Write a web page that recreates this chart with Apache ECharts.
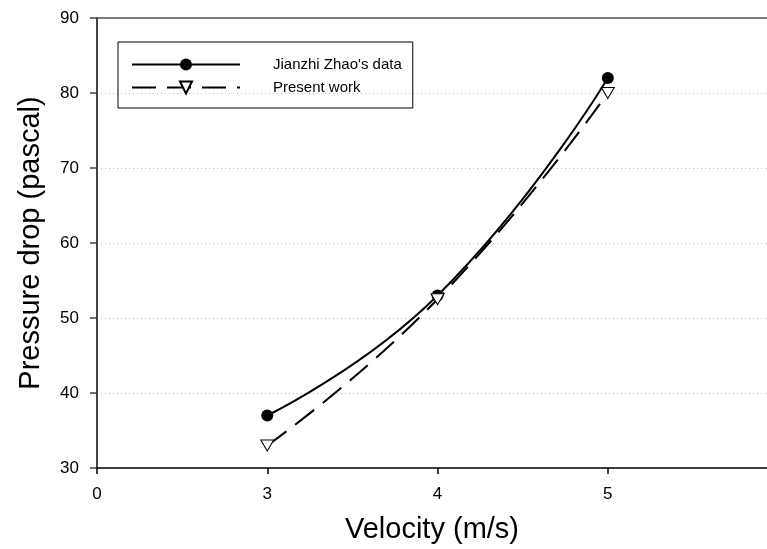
<!DOCTYPE html>
<html>
<head>
<meta charset="utf-8">
<script src="https://cdn.jsdelivr.net/npm/echarts@6/dist/echarts.min.js"></script>
<style>
  html, body { margin: 0; padding: 0; background: #fff; }
  #chart { width: 767px; height: 549px; }
</style>
</head>
<body>
<div id="chart"></div>
<script>
// velocity (m/s) and pressure drop (pascal)
const velocity = [3, 4, 5];
const zhaoData = [37, 53, 82];
const presentWork = [33, 52.5, 80];
const seriesNames = ["Jianzhi Zhao's data", 'Present work'];
// axis starts at 2 but the first tick is labelled 0 in the original
const xTicks = [2, 3, 4, 5];

const font = 'Liberation Sans, Arial, sans-serif';

const chart = echarts.init(document.getElementById('chart'));

const xBase = {
    type: 'value',
    min: 2,
    max: 5.935,
    interval: 1
};

chart.setOption({
    animation: false,
    backgroundColor: '#fff',
    grid: { left: 97, right: 0, top: 18, bottom: 81, outerBoundsMode: 'none' },
    legend: {
        orient: 'vertical',
        left: 118,
        top: 42,
        itemWidth: 108,
        itemHeight: 15,
        itemGap: 8,
        padding: [15, 11, 13, 13],
        borderColor: '#000',
        borderWidth: 1,
        textStyle: { fontFamily: font, fontSize: 15, color: '#000', padding: [0, 0, 0, 28] },
        data: seriesNames
    },
    xAxis: [
        Object.assign({}, xBase, {
            position: 'bottom',
            name: 'Velocity (m/s)',
            nameLocation: 'middle',
            nameGap: 47,
            nameTextStyle: { fontFamily: font, fontSize: 29, color: '#000' },
            axisLine: { lineStyle: { color: '#000', width: 1.5 } },
            axisTick: { length: 6, customValues: xTicks, lineStyle: { color: '#000', width: 1.5 } },
            axisLabel: {
                fontFamily: font, fontSize: 17, color: '#000', margin: 18,
                customValues: xTicks,
                formatter: v => (v === 2 ? '0' : String(v))
            },
            splitLine: { show: false }
        }),
        Object.assign({}, xBase, {
            position: 'top',
            axisLine: { lineStyle: { color: '#555', width: 1.5 } },
            axisTick: { show: false },
            axisLabel: { show: false },
            splitLine: { show: false }
        })
    ],
    yAxis: {
        type: 'value',
        min: 30,
        max: 90,
        interval: 10,
        name: 'Pressure drop (pascal)',
        nameLocation: 'middle',
        nameGap: 52,
        nameTextStyle: { fontFamily: font, fontSize: 29, color: '#000' },
        axisLine: { show: true, lineStyle: { color: '#444', width: 2 } },
        axisTick: { length: 7, lineStyle: { color: '#444', width: 1.5 } },
        axisLabel: { fontFamily: font, fontSize: 17, color: '#000', margin: 18 },
        splitLine: { lineStyle: { color: '#bbb', type: [1, 3], width: 1 } }
    },
    series: [
        {
            name: seriesNames[0],
            type: 'line',
            smooth: true,
            data: velocity.map((v, i) => [v, zhaoData[i]]),
            symbol: 'circle',
            symbolSize: 12,
            itemStyle: { color: '#000' },
            lineStyle: { color: '#000', width: 2 },
            z: 3
        },
        {
            name: seriesNames[1],
            type: 'line',
            smooth: true,
            data: velocity.map((v, i) => [v, presentWork[i]]),
            symbol: 'triangle',
            symbolRotate: 180,
            symbolSize: [13, 11],
            itemStyle: { color: '#fff', borderColor: '#000', borderWidth: 1 },
            lineStyle: { color: '#000', width: 2, type: [24, 11] },
            z: 4
        }
    ]
});
</script>
</body>
</html>
